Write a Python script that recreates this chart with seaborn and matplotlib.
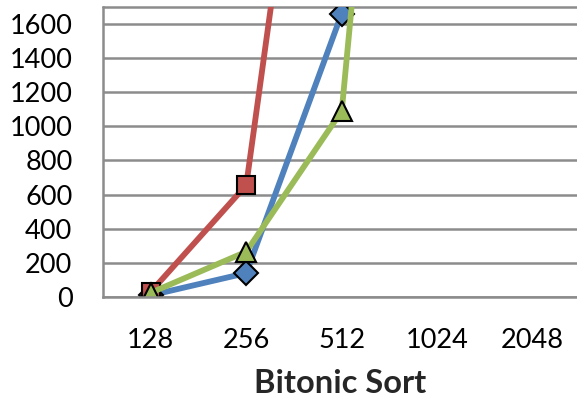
import numpy as np
import pandas as pd
import matplotlib
matplotlib.use("Agg")
import matplotlib.pyplot as plt
import seaborn as sns

categories = ["128", "256", "512", "1024", "2048"]
blue_vals = [10, 140, 1660, 6500, np.nan]
red_vals = [30, 655, 4700, np.nan, np.nan]
green_vals = [25, 265, 1090, 7000, np.nan]
y_ticks = [0, 200, 400, 600, 800, 1000, 1200, 1400, 1600]
x_title = "Bitonic Sort"

sns.set_style("white")
plt.rcParams["font.family"] = ["Lato", "DejaVu Sans"]

fig = plt.figure(figsize=(5.77, 4.04), dpi=100)
ax = fig.add_axes([103 / 577, 107 / 404, 474 / 577, (297 - 6.7) / 404])

pos = np.arange(len(categories))
series = [
    ("Series1", blue_vals, "#4F81BD", "D", 12),
    ("Series2", red_vals, "#C0504D", "s", 13.5),
    ("Series3", green_vals, "#9BBB59", "^", 15),
]
for name, vals, color, marker, ms in series:
    df = pd.DataFrame({"x": pos, "y": vals})
    sns.lineplot(data=df, x="x", y="y", ax=ax, color=color, linewidth=4.2,
                 marker=marker, markersize=ms, markeredgecolor="black",
                 markeredgewidth=1.5, markerfacecolor=color, clip_on=True,
                 legend=False)

ax.set_xlim(-0.5, -0.5 + 474 / 95.5)
ax.set_ylim(0, 1700)
ax.set_yticks(y_ticks)
ax.set_xticks(pos)
ax.set_xticklabels(categories)
ax.tick_params(axis="both", length=0, labelsize=19.5, colors="black")
ax.tick_params(axis="y", pad=22)
ax.tick_params(axis="x", pad=22)
ax.grid(axis="y", color="#8c8c8c", linewidth=1.8)
ax.axhline(1700, color="#8c8c8c", linewidth=1.8, clip_on=False, zorder=0)
ax.set_axisbelow(True)
for s in ["top", "right"]:
    ax.spines[s].set_visible(False)
for s in ["left", "bottom"]:
    ax.spines[s].set_color("#8c8c8c")
    ax.spines[s].set_linewidth(1.8)
ax.set_xlabel(x_title, fontsize=23.5, fontweight="bold", labelpad=12)
ax.set_ylabel("")

fig.savefig("out.png", dpi=100)
